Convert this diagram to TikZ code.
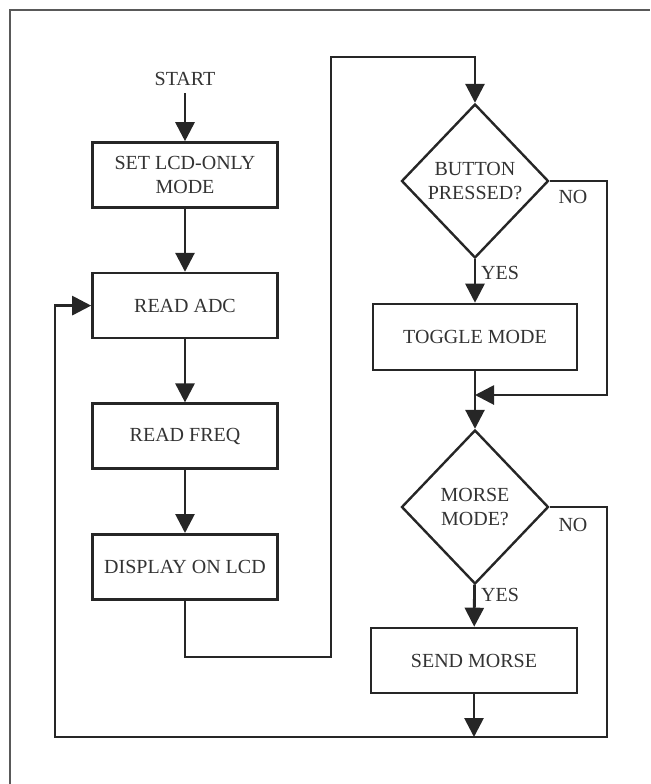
\documentclass[tikz,border=0pt]{standalone}
\usepackage{fontspec}
\setmainfont{Liberation Serif}
\usepackage{xcolor}
\usetikzlibrary{positioning, arrows.meta, shapes.geometric}

\begin{document}
\begin{tikzpicture}[
    x=0.5pt, y=-0.5pt,
    node distance=31.5pt,
    font=\fontsize{10}{12}\selectfont,
    procbox/.style={
        rectangle,
        draw=black!85,
        line width=1.3pt,
        minimum width=92.5pt,
        minimum height=32.5pt,
        align=center,
        text=black!80
    },
    decbox/.style={
        diamond,
        draw=black!85,
        line width=1.2pt,
        inner sep=0pt,
        minimum width=73.5pt,
        minimum height=77pt,
        align=center,
        text=black!80
    },
    flow/.style={draw=black!85, line width=1.4pt, -{Triangle[length=9.5pt,width=9.5pt]}},
    lbl/.style={text=black!80}
]
    \useasboundingbox (0,0) rectangle (650,784);

    % Page frame
    \draw[black!65, line width=1pt] (10,784) -- (10,10) -- (650,10);

    % Left column
    \node[procbox] (setmode) at (185,175) {SET LCD-ONLY\\MODE};
    \node[lbl, above=24pt of setmode] (start) {START};
    \node[procbox, below=of setmode] (adc) {READ ADC};
    \node[procbox, below=of adc] (freq) {READ FREQ};
    \node[procbox, below=of freq] (disp) {DISPLAY ON LCD};

    % Right column
    \node[decbox] (btn) at (475,181) {BUTTON\\PRESSED?};
    \node[procbox, minimum width=102pt, minimum height=33pt] (toggle) at (475,337) {TOGGLE MODE};
    \node[decbox] (morse) at (475,507) {MORSE\\MODE?};
    \node[procbox, minimum width=103pt] (send) at (474,660.5) {SEND MORSE};

    % Branch labels
    \node[lbl] (yes1) at (500,273) {YES};
    \node[lbl] (no1) at (573,197) {NO};
    \node[lbl] (yes2) at (500,595) {YES};
    \node[lbl] (no2) at (573,525) {NO};

    % Corner points
    \coordinate (jogB) at (331,657);
    \coordinate (jogT) at (331,57);
    \coordinate (noR) at (607,395);
    \coordinate (merge) at (475,395);
    \coordinate (loopR) at (607,737);
    \coordinate (loopL) at (55,737);

    % Connectors
    \draw[flow] (start) -- (setmode);
    \draw[flow] (setmode) -- (adc);
    \draw[flow] (adc) -- (freq);
    \draw[flow] (freq) -- (disp);
    \draw[flow] (disp.south) |- (jogB) -- (jogT) -| (btn.north);
    \draw[flow] (btn) -- (toggle);
    \draw[flow] (btn.east) -| (noR) -- (merge);
    \draw[flow] (toggle) -- (morse);
    \draw[flow] (morse) -- (send);
    \draw[flow] (morse.east) -| (loopR) -- (loopL) |- (adc.west);
    \draw[flow] (send) -- (send.south |- loopL);
\end{tikzpicture}
\end{document}
